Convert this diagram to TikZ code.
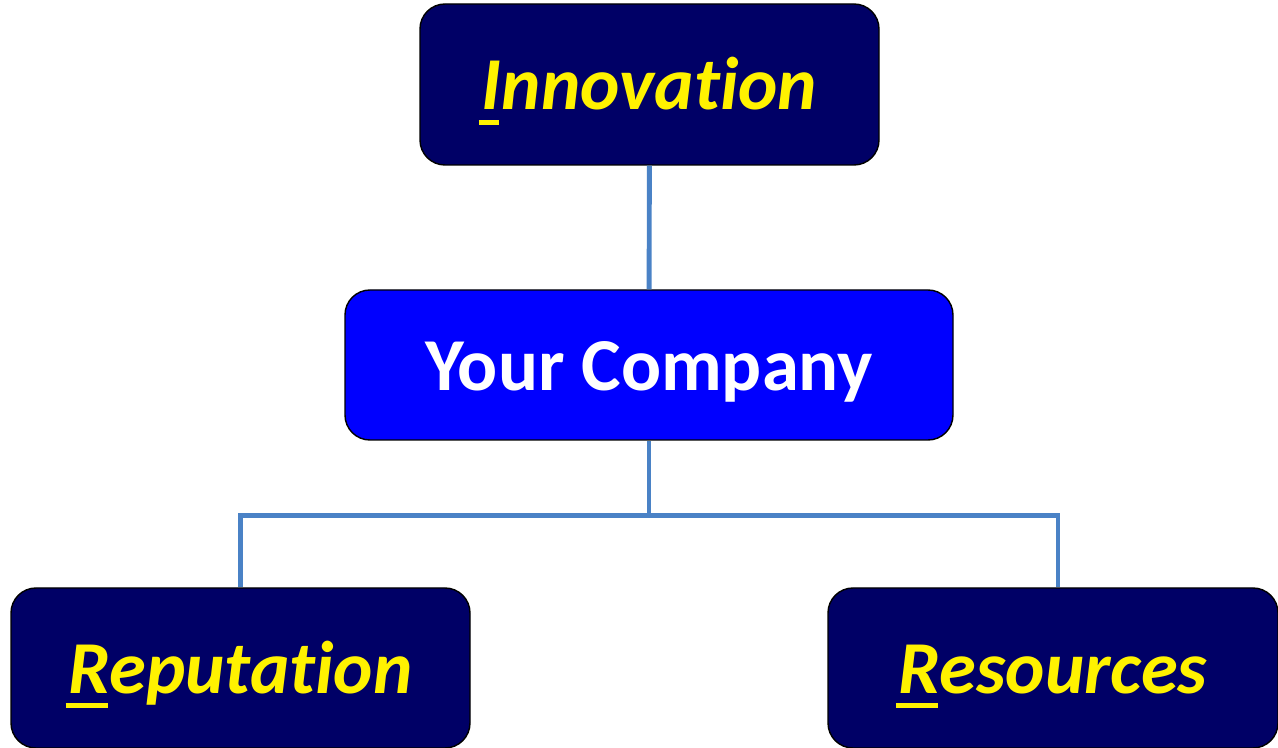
\documentclass[tikz,border=0pt]{standalone}
\usepackage{fontspec}
\setmainfont{Carlito}[Ligatures=NoCommon]
\definecolor{navybox}{HTML}{000066}
\definecolor{companyblue}{HTML}{0000FF}
\definecolor{linkblue}{HTML}{4A82C6}
\newcommand{\ulfirst}[1]{\setbox0\hbox{#1}\rlap{\kern-0.04em\rule[-0.2em]{\wd0}{0.07em}}#1}
\tikzset{
  pillar/.style={draw=black, line width=0.8pt, rounded corners=0.5cm, fill=navybox,
    text=yellow, font=\fontsize{42.5}{50}\selectfont\bfseries\itshape,
    text height=29pt, text depth=0pt,
    minimum width=9.18cm, minimum height=3.2cm},
  link/.style={draw=linkblue, line width=2.8pt}
}
\begin{document}
\begin{tikzpicture}
  \useasboundingbox (0,0) rectangle (25.56,-14.96);

  % Top pillar
  \node[pillar, minimum height=3.22cm] (innovation) at (12.99,-1.69) {\ulfirst{I}nnovation};

  % The company in the middle
  \node[draw=black, line width=0.8pt, rounded corners=0.5cm, fill=companyblue, text=white,
    font=\fontsize{42.5}{50}\selectfont\bfseries, text height=29pt, text depth=0pt,
    minimum width=12.16cm, minimum height=3cm] (company) at (12.98,-7.3) {Your Company};

  % Bottom pillars
  \node[pillar] (reputation) at (4.81,-13.36) {\ulfirst{R}eputation};
  \node[pillar, minimum width=9cm] (resources) at (21.06,-13.36) {\ulfirst{R}esources};

  % Links
  \draw[link] (innovation) -- (company);
  \draw[link] (company.south) -- ++(0,-1.5) coordinate (split);
  \draw[link] (reputation.north) |- (split) -| ([xshift=0.1cm]resources.north);

\end{tikzpicture}
\end{document}
